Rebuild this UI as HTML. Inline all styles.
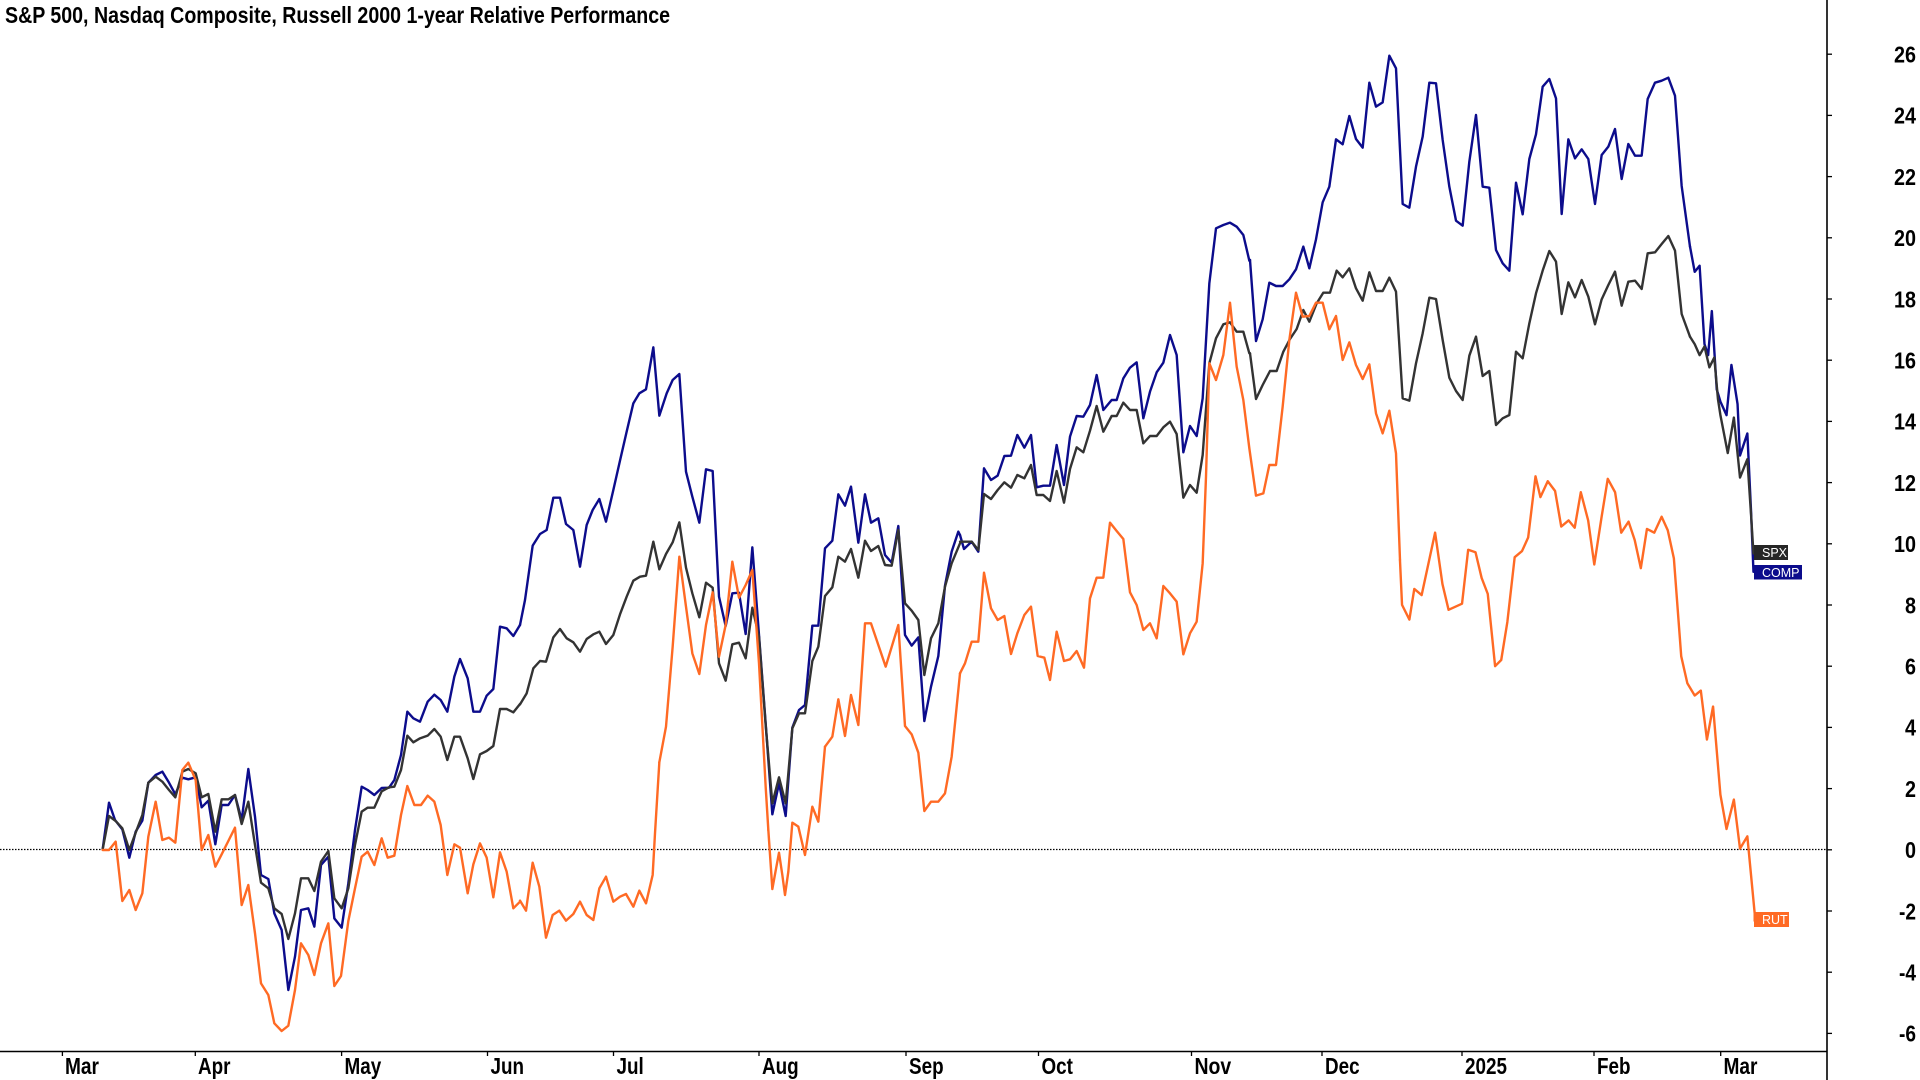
<!DOCTYPE html>
<html>
<head>
<meta charset="utf-8">
<style>
html,body{margin:0;padding:0;background:#fff;}
svg{display:block;}
polyline{fill:none;stroke-width:2.4;vector-effect:non-scaling-stroke;stroke-linejoin:round;stroke-linecap:round;}
.c{stroke:#0c0c8c;}
.s{stroke:#333333;}
.r{stroke:#ff6a24;}
.ax{font-family:"Liberation Sans Narrow","Liberation Sans",sans-serif;font-weight:bold;fill:#000;}
.lb{font-family:"Liberation Sans",sans-serif;fill:#fff;font-size:12.5px;}
</style>
</head>
<body>
<svg width="1920" height="1080" viewBox="0 0 1920 1080" xmlns="http://www.w3.org/2000/svg">
<rect x="0" y="0" width="1920" height="1080" fill="#fff"/>

<!-- title -->
<text class="ax" x="5" y="23" font-size="23" textLength="665" lengthAdjust="spacingAndGlyphs">S&amp;P 500, Nasdaq Composite, Russell 2000 1-year Relative Performance</text>

<!-- zero line -->
<line x1="0" y1="849.5" x2="1827" y2="849.5" stroke="#000" stroke-width="1.3" stroke-dasharray="1.5,1.5"/>

<!-- ===== COMP ===== -->
<g transform="translate(90,560) scale(0.333333)">
<polyline class="c" points="38,868 57,728 75,780 97,808 118,893 137,815 157,782 175,668 197,645 217,635 237,668 256,703 277,653 295,658 317,652 335,742 355,722 376,853 395,735 415,735 435,705 455,780 475,627 495,770 513,945 535,957 553,1060 575,1110 595,1290 615,1190 633,1050 655,1045 673,1100 693,915 715,890 733,1075 755,1103 775,970 795,810 815,680 833,690 853,705 875,684 897,683 913,660 933,585 952,455 970,475 990,485 1013,425 1033,404 1052,420 1072,455 1093,350 1110,297 1133,355 1150,455 1170,455 1190,407 1210,387 1230,200 1250,205 1270,228 1290,195"/>
</g>
<g transform="translate(520,330) scale(0.333333)">
<polyline class="c" points="0,885 15,810 38,647 60,612 80,600 100,503 120,503 138,582 160,600 180,710 200,585 218,540 238,507 258,575 280,480 300,392 320,305 340,220 358,190 378,178 400,52 418,257 440,190 458,150 478,132 498,425 517,500 538,578 558,418 578,423 597,800 617,888 637,790 657,788 677,912 697,652 717,915 737,1180 757,1453 777,1360 797,1458 817,1193 837,1140 855,1125 877,887 895,887 915,655 937,632 955,493 975,527 993,470 1015,638 1035,493 1053,578 1075,565 1095,675 1115,698 1135,588 1155,915 1175,947 1195,922 1213,1173 1233,1070 1255,978 1275,767 1295,665 1315,605 1320,615"/>
</g>
<g transform="translate(960,200) scale(0.333333)">
<polyline class="c" points="0,1005 12,1047 35,1025 55,1055 72,805 93,840 113,827 133,768 153,767 172,705 193,743 213,705 230,862 250,857 270,857 290,735 312,855 330,710 350,648 370,650 390,615 410,525 430,630 455,600 470,600 490,535 510,503 530,487 550,655 570,575 590,517 610,488 630,405 650,465 670,757 690,678 710,708 728,595 748,250 768,85 790,75 810,68 830,80 850,105 868,182 870,180"/>
</g>
<g transform="translate(1250,40) scale(0.333333)">
<polyline class="c" points="0,660 18,903 38,838 58,728 78,738 98,738 118,718 138,688 160,620 178,685 198,598 218,487 238,440 258,298 278,313 298,228 318,297 338,323 358,128 378,200 398,187 418,47 438,85 458,492 478,503 498,380 518,290 538,128 558,130 578,300 598,440 618,542 638,557 658,365 678,225 698,440 718,443 738,630 758,670 778,692 798,428 818,523 838,357 858,283 878,140 898,117 918,175 935,522 955,298 975,355 995,328 1015,357 1035,492 1055,345 1075,320 1095,267 1115,417 1135,312 1155,347 1175,347 1193,177 1215,128 1235,122 1255,113 1275,167 1295,438 1320,620"/>
</g>
<g transform="scale(1.22449)">
<polyline class="c" points="1380.2,201.5 1384,222 1388,217 1392,281 1395,290 1398,254 1402,318 1405,328 1410,339 1414,298 1419,330 1421,372 1427,354 1430,417 1432,467"/>
</g>

<!-- ===== SPX ===== -->
<g transform="translate(90,560) scale(0.333333)">
<polyline class="s" points="38,868 57,768 77,783 97,805 118,870 137,818 157,765 175,668 197,650 217,665 237,690 256,712 277,635 295,627 317,640 335,712 355,702 376,815 395,718 415,718 435,705 455,792 475,725 495,855 513,968 535,985 553,1045 575,1062 595,1137 615,1060 633,955 655,955 673,993 693,905 715,873 733,1015 755,1045 775,985 795,855 815,755 833,743 853,743 875,694 897,682 913,680 933,630 952,527 970,547 990,535 1013,527 1033,507 1052,530 1072,600 1093,530 1110,530 1133,595 1150,657 1170,583 1190,573 1210,558 1230,447 1250,447 1270,457 1290,432"/>
</g>
<g transform="translate(520,330) scale(0.333333)">
<polyline class="s" points="0,1123 20,1090 40,1015 60,993 78,995 100,922 120,897 140,925 160,937 180,965 200,927 220,913 238,905 258,942 280,915 300,853 320,800 340,752 360,740 378,737 400,635 418,718 438,672 458,637 478,577 498,713 517,790 538,862 558,758 578,773 597,1000 617,1052 637,943 657,938 677,985 697,833 717,920 737,1185 757,1420 777,1342 797,1420 817,1195 837,1150 855,1150 877,993 895,950 915,798 937,772 955,680 975,695 993,657 1015,743 1035,632 1053,663 1075,648 1095,705 1115,707 1135,600 1155,820 1175,842 1195,870 1213,1035 1233,925 1255,880 1275,770 1295,700 1320,640"/>
</g>
<g transform="translate(960,200) scale(0.333333)">
<polyline class="s" points="0,1025 12,1025 35,1025 55,1050 72,882 93,897 113,870 133,847 153,863 172,825 193,835 213,795 230,885 250,885 270,903 290,813 312,908 330,807 350,742 370,757 390,692 410,618 430,695 455,648 470,648 490,608 510,630 530,630 550,730 570,708 590,708 610,682 630,665 650,702 670,893 690,855 710,878 728,765 748,490 768,415 790,373 810,367 830,395 850,395 868,460 870,460"/>
</g>
<g transform="translate(1250,40) scale(0.333333)">
<polyline class="s" points="0,940 18,1077 38,1035 60,993 80,993 100,935 120,897 140,867 160,810 178,845 200,790 220,758 240,758 260,692 278,712 298,685 318,745 338,782 358,697 378,753 398,753 418,713 438,755 458,1075 478,1082 498,970 518,880 538,773 558,777 578,900 598,1013 618,1053 638,1080 658,947 678,890 698,1008 718,993 738,1155 758,1135 778,1125 798,935 818,955 838,850 858,760 878,692 898,633 918,665 935,822 955,727 975,772 995,720 1015,770 1035,853 1055,778 1075,735 1095,695 1115,797 1135,725 1155,722 1175,747 1193,640 1215,637 1235,612 1255,588 1275,632 1295,822 1320,890"/>
</g>
<g transform="scale(1.22449)">
<polyline class="s" points="1380.2,275 1384,281 1388,290 1392,283 1396,300 1400,292 1403,326 1405,339 1411,370 1416,341 1421,390 1427,375 1430,420 1432,452"/>
</g>

<!-- ===== RUT ===== -->
<g transform="translate(90,560) scale(0.333333)">
<polyline class="r" points="38,870 57,870 77,845 97,1023 118,990 137,1050 157,1000 175,830 197,725 217,840 237,833 256,848 277,630 295,608 317,660 335,870 355,825 376,920 395,883 415,843 435,803 455,1035 475,975 495,1120 513,1270 535,1305 553,1390 575,1413 595,1397 615,1290 633,1150 655,1185 673,1245 693,1150 715,1090 733,1278 753,1248 775,1083 795,985 815,890 833,875 853,915 875,835 893,893 913,887 933,765 952,678 973,735 993,735 1013,707 1033,725 1052,795 1072,945 1093,853 1110,863 1133,1000 1150,913 1170,850 1190,893 1210,1012 1230,877 1250,935 1270,1045 1290,1025"/>
</g>
<g transform="translate(520,780) scale(0.333333)">
<polyline class="r" points="0,362 18,392 38,248 58,320 78,473 98,405 118,392 138,422 160,402 180,365 200,405 220,420 238,325 258,290 280,365 300,350 318,342 340,380 358,332 378,370 398,285 405,160 418,-53"/>
<polyline class="r" points="745,150 757,327 767,272 777,218 787,285 795,345 805,275 817,128 835,140 855,225 865,160 877,80 895,125 915,-100"/>
</g>
<g transform="translate(520,330) scale(0.333333)">
<polyline class="r" points="418,1297 438,1190 458,950 478,680 498,830 517,970 538,1032 558,885 578,787 597,980 617,885 637,695 657,803 677,765 697,720 717,1000 737,1370 745,1500"/>
<polyline class="r" points="915,1250 937,1220 955,1108 975,1218 993,1095 1015,1185 1035,880 1053,880 1097,1010 1135,885 1155,1188 1175,1213 1195,1268 1213,1443 1233,1415 1255,1415 1275,1390 1295,1280 1320,1030"/>
</g>
<g transform="translate(960,200) scale(0.333333)">
<polyline class="r" points="0,1420 15,1390 35,1325 55,1325 72,1118 93,1225 113,1260 133,1248 153,1362 172,1300 193,1245 213,1220 233,1368 253,1373 270,1440 290,1295 312,1383 330,1378 350,1353 372,1403 390,1195 410,1133 430,1133 450,968 470,993 490,1017 510,1177 530,1215 550,1290 570,1270 590,1315 610,1158 630,1180 650,1205 670,1363 690,1300 710,1265 728,1090 738,830 748,490 768,540 790,465 810,308 830,500 850,600 868,745 888,887 910,880 928,795 948,795 968,620 988,420 1008,278 1028,350 1048,348 1068,308 1088,308 1108,388 1128,348 1148,480 1168,427 1188,495 1208,537 1228,493 1248,640 1268,700 1288,632 1308,760 1320,1080"/>
</g>
<g transform="scale(1.22449)">
<polyline class="r" points="1143.3,457.3 1145,494 1151,506 1155,481 1161,486 1172,435 1178,477 1183,498 1194,493 1199,449 1205,451 1210,472 1215,485 1221,544 1226,539 1231,508 1237,455 1243,450 1248,439 1254,389 1258,406 1264,393 1270,401 1275,430 1281,425 1286,431 1291,402 1297,425 1302,461 1308,422 1313,391 1319,402 1324,435 1330,426 1335,441 1340,464 1345,432 1351,435 1357,422 1362,433 1367,456 1373,536 1378,558 1384,568 1389,564 1394,604 1399,577 1405,649 1410,677 1416,653 1421,693 1427,683 1433,746 1433,752"/>
</g>

<!-- end labels -->
<rect x="1754" y="545" width="34" height="15" fill="#262626"/>
<text class="lb" x="1762" y="557">SPX</text>
<rect x="1754" y="565" width="48" height="14.5" fill="#0c0c8c"/>
<text class="lb" x="1762" y="577">COMP</text>
<rect x="1754" y="912" width="35" height="15" fill="#ff6a24"/>
<text class="lb" x="1762" y="924">RUT</text>

<!-- axes -->
<line x1="1827" y1="0" x2="1827" y2="1080" stroke="#000" stroke-width="1.6"/>
<line x1="0" y1="1051.5" x2="1827" y2="1051.5" stroke="#000" stroke-width="1.6"/>

<!-- y ticks -->
<g stroke="#000" stroke-width="1.3">
<line x1="1827" y1="54.2" x2="1832" y2="54.2"/>
<line x1="1827" y1="115.4" x2="1832" y2="115.4"/>
<line x1="1827" y1="176.6" x2="1832" y2="176.6"/>
<line x1="1827" y1="237.8" x2="1832" y2="237.8"/>
<line x1="1827" y1="299" x2="1832" y2="299"/>
<line x1="1827" y1="360.2" x2="1832" y2="360.2"/>
<line x1="1827" y1="421.4" x2="1832" y2="421.4"/>
<line x1="1827" y1="482.6" x2="1832" y2="482.6"/>
<line x1="1827" y1="543.8" x2="1832" y2="543.8"/>
<line x1="1827" y1="605" x2="1832" y2="605"/>
<line x1="1827" y1="666.2" x2="1832" y2="666.2"/>
<line x1="1827" y1="727.4" x2="1832" y2="727.4"/>
<line x1="1827" y1="788.6" x2="1832" y2="788.6"/>
<line x1="1827" y1="849.8" x2="1832" y2="849.8"/>
<line x1="1827" y1="911" x2="1832" y2="911"/>
<line x1="1827" y1="972.2" x2="1832" y2="972.2"/>
<line x1="1827" y1="1033.4" x2="1832" y2="1033.4"/>
</g>
<g class="ax" font-size="23" text-anchor="end">
<text x="1916" y="62.5" textLength="22" lengthAdjust="spacingAndGlyphs">26</text>
<text x="1916" y="123.7" textLength="22" lengthAdjust="spacingAndGlyphs">24</text>
<text x="1916" y="184.9" textLength="22" lengthAdjust="spacingAndGlyphs">22</text>
<text x="1916" y="246.1" textLength="22" lengthAdjust="spacingAndGlyphs">20</text>
<text x="1916" y="307.3" textLength="22" lengthAdjust="spacingAndGlyphs">18</text>
<text x="1916" y="368.5" textLength="22" lengthAdjust="spacingAndGlyphs">16</text>
<text x="1916" y="429.7" textLength="22" lengthAdjust="spacingAndGlyphs">14</text>
<text x="1916" y="490.9" textLength="22" lengthAdjust="spacingAndGlyphs">12</text>
<text x="1916" y="552.1" textLength="22" lengthAdjust="spacingAndGlyphs">10</text>
<text x="1916" y="613.3" textLength="11" lengthAdjust="spacingAndGlyphs">8</text>
<text x="1916" y="674.5" textLength="11" lengthAdjust="spacingAndGlyphs">6</text>
<text x="1916" y="735.7" textLength="11" lengthAdjust="spacingAndGlyphs">4</text>
<text x="1916" y="796.9" textLength="11" lengthAdjust="spacingAndGlyphs">2</text>
<text x="1916" y="858.1" textLength="11" lengthAdjust="spacingAndGlyphs">0</text>
<text x="1916" y="919.3" textLength="17" lengthAdjust="spacingAndGlyphs">-2</text>
<text x="1916" y="980.5" textLength="17" lengthAdjust="spacingAndGlyphs">-4</text>
<text x="1916" y="1041.7" textLength="17" lengthAdjust="spacingAndGlyphs">-6</text>
</g>

<!-- x ticks -->
<g stroke="#000" stroke-width="1.3">
<line x1="62.4" y1="1051.5" x2="62.4" y2="1056"/>
<line x1="195.3" y1="1051.5" x2="195.3" y2="1056"/>
<line x1="341.6" y1="1051.5" x2="341.6" y2="1056"/>
<line x1="487.5" y1="1051.5" x2="487.5" y2="1056"/>
<line x1="613.5" y1="1051.5" x2="613.5" y2="1056"/>
<line x1="759" y1="1051.5" x2="759" y2="1056"/>
<line x1="906" y1="1051.5" x2="906" y2="1056"/>
<line x1="1038.5" y1="1051.5" x2="1038.5" y2="1056"/>
<line x1="1191.5" y1="1051.5" x2="1191.5" y2="1056"/>
<line x1="1322" y1="1051.5" x2="1322" y2="1056"/>
<line x1="1462" y1="1051.5" x2="1462" y2="1056"/>
<line x1="1594" y1="1051.5" x2="1594" y2="1056"/>
<line x1="1720.7" y1="1051.5" x2="1720.7" y2="1056"/>
</g>
<g class="ax" font-size="23">
<text x="65" y="1074" textLength="34" lengthAdjust="spacingAndGlyphs">Mar</text>
<text x="198" y="1074" textLength="32.5" lengthAdjust="spacingAndGlyphs">Apr</text>
<text x="344.5" y="1074" textLength="36.7" lengthAdjust="spacingAndGlyphs">May</text>
<text x="490.5" y="1074" textLength="33.5" lengthAdjust="spacingAndGlyphs">Jun</text>
<text x="616.5" y="1074" textLength="27.3" lengthAdjust="spacingAndGlyphs">Jul</text>
<text x="762" y="1074" textLength="36.7" lengthAdjust="spacingAndGlyphs">Aug</text>
<text x="909" y="1074" textLength="34.6" lengthAdjust="spacingAndGlyphs">Sep</text>
<text x="1041.5" y="1074" textLength="31.4" lengthAdjust="spacingAndGlyphs">Oct</text>
<text x="1194.5" y="1074" textLength="36.7" lengthAdjust="spacingAndGlyphs">Nov</text>
<text x="1325" y="1074" textLength="34.6" lengthAdjust="spacingAndGlyphs">Dec</text>
<text x="1465" y="1074" textLength="42" lengthAdjust="spacingAndGlyphs">2025</text>
<text x="1597" y="1074" textLength="33.5" lengthAdjust="spacingAndGlyphs">Feb</text>
<text x="1723.5" y="1074" textLength="34" lengthAdjust="spacingAndGlyphs">Mar</text>
</g>
</svg>
</body>
</html>
